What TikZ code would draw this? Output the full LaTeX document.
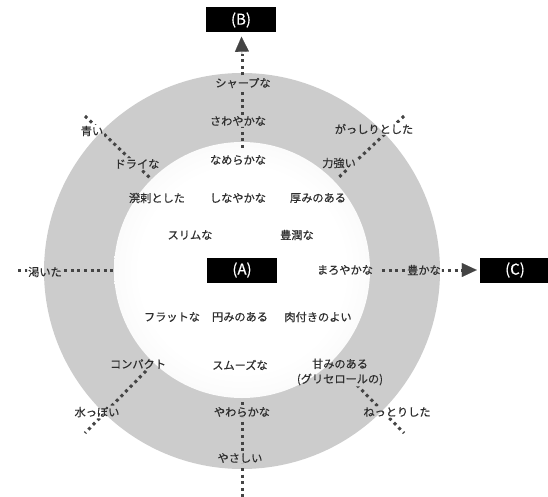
\documentclass[tikz,border=0pt]{standalone}
\usepackage{fontspec}
\newfontfamily\jp[FakeBold=0.4]{Noto Sans CJK JP}
\usetikzlibrary{arrows.meta}
\definecolor{ringgray}{HTML}{CCCCCC}
\definecolor{dotgray}{HTML}{444444}
\definecolor{txtgray}{HTML}{2E2E2E}
\pgfdeclareradialshading{innerglow}{\pgfpoint{0bp}{0bp}}{color(0bp)=(white); color(20bp)=(white); color(35bp)=(black!5); color(50bp)=(black!16)}
\tikzset{
  lab/.style={font=\jp\fontsize{11.2}{15}\selectfont, text=txtgray, inner sep=0pt, align=center},
  blackbox/.style={fill=black, text=white, minimum width=70pt, minimum height=25pt, inner sep=0pt, font=\jp\fontsize{15}{15}\selectfont},
  dotline/.style={draw=dotgray, line width=3pt, dash pattern=on 3pt off 3.6pt},
  tip/.style={-{Triangle[length=15pt,width=14pt]}, draw=dotgray, fill=dotgray, line width=0.1pt}
}
\begin{document}
\begin{tikzpicture}[x=1pt,y=-1pt]
\path[use as bounding box] (0,0) rectangle (548,497);
% circles
\fill[ringgray] (242,271) circle (198pt);
\shade[shading=innerglow] (242,270) circle (128pt);
% boxes
\node[blackbox] (A) at (242,270) {(A)};
\node[blackbox] (B) at (241,20) {(B)};
\node[blackbox] (C) at (515,270) {(C)};
% labels
\node[lab] (t1) at (243,83) {シャープな};
\node[lab] (t2) at (238,121) {さわやかな};
\node[lab] (t3) at (238,160) {なめらかな};
\node[lab] (t4) at (92,131) {青い};
\node[lab] (t5) at (137,164) {ドライな};
\node[lab] (t6) at (374,129) {がっしりとした};
\node[lab] (t7) at (339,163) {力強い};
\node[lab] (t8) at (157,198) {溌剌とした};
\node[lab] (t9) at (238,198) {しなやかな};
\node[lab] (t10) at (318,198) {厚みのある};
\node[lab] (t11) at (190,235) {スリムな};
\node[lab] (t12) at (297,235) {豊潤な};
\node[lab] (t13) at (45,272) {渇いた};
\node[lab] (t14) at (345,270) {まろやかな};
\node[lab] (t15) at (424,270) {豊かな};
\node[lab] (t16) at (172,317) {フラットな};
\node[lab] (t17) at (240,317) {円みのある};
\node[lab] (t18) at (318,317) {肉付きのよい};
\node[lab] (t19) at (138,364) {コンパクト};
\node[lab] (t20) at (240,365) {スムーズな};
\node[lab] (t21) at (340,372) {甘みのある\\(グリセロールの)};
\node[lab] (t22) at (97,412) {水っぽい};
\node[lab] (t23) at (242,412) {やわらかな};
\node[lab] (t24) at (397,412) {ねっとりした};
\node[lab] (t25) at (240,458) {やさしい};
% coordinates of line ends
\coordinate (vtop) at (242,148);
\coordinate (vup) at (242,54);
\coordinate (vbot0) at (242,402);
\coordinate (vbot1) at (242,497);
\coordinate (hl0) at (18,270);
\coordinate (hl1) at (113,270);
\coordinate (hr0) at (382,270);
\coordinate (hr1) at (462,270);
\coordinate (ul0) at (85,116);
\coordinate (ul1) at (150,178);
\coordinate (ur0) at (404,116);
\coordinate (ur1) at (337,179);
\coordinate (ll0) at (146,371);
\coordinate (ll1) at (85,433);
\coordinate (lr0) at (343,371);
\coordinate (lr1) at (404,433);
% dotted lines, kept off the labels
\begin{scope}[even odd rule]
\clip (-5,-5) rectangle (553,502)
  foreach \n in {t1,t2,t4,t5,t6,t7,t13,t15,t19,t21,t22,t23,t24,t25}
  { ([shift={(-0.8pt,-0.8pt)}]\n.south west) rectangle ([shift={(0.8pt,0.8pt)}]\n.north east) };
\draw[dotline] (vtop) -- (vup);
\draw[dotline] (hr0) -- (hr1);
\draw[dotline] (hl0) -- (hl1);
\draw[dotline] (vbot0) -- (vbot1);
\draw[dotline] (ul0) -- (ul1);
\draw[dotline] (ur0) -- (ur1);
\draw[dotline] (ll0) -- (ll1);
\draw[dotline] (lr0) -- (lr1);
\end{scope}
% arrowheads
\draw[tip, shorten >=4pt] (vup) -- (B);
\draw[tip, shorten >=3pt] (hr1) -- (C);
\end{tikzpicture}
\end{document}
